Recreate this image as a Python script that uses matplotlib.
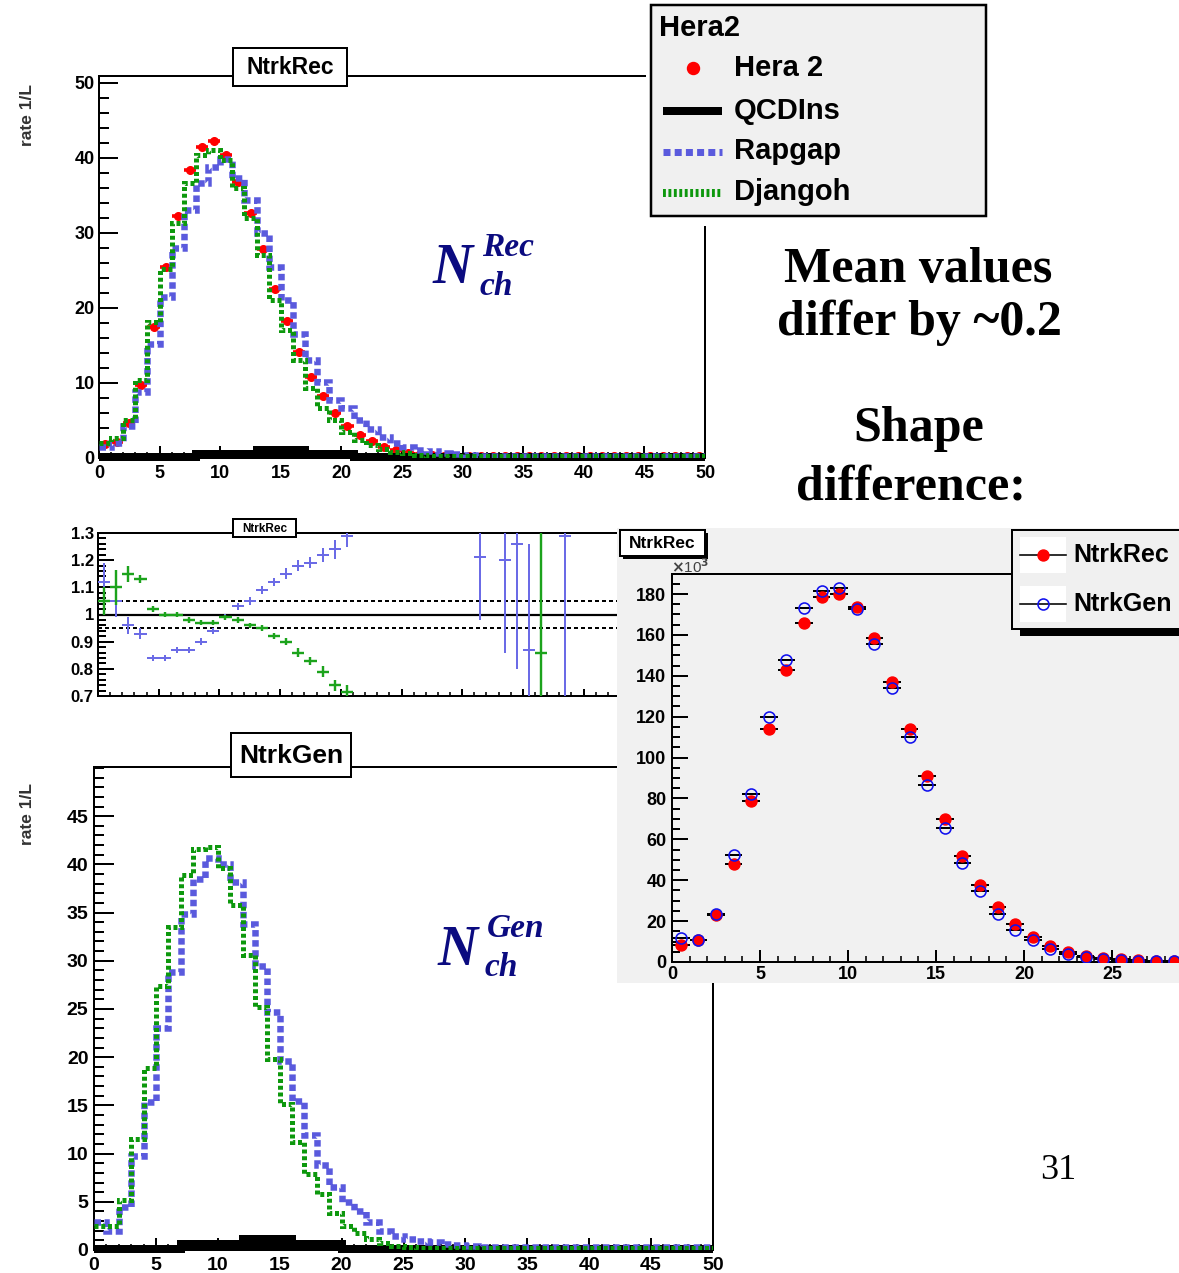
import numpy as np
import matplotlib
matplotlib.use("Agg")
import matplotlib.pyplot as plt
from matplotlib import font_manager
from matplotlib.patches import Rectangle
from matplotlib.lines import Line2D
from matplotlib.ticker import MultipleLocator, FuncFormatter

# ---------------------------------------------------------------- data
# NtrkRec, rate 1/L, unit bins from 0 to 50
hera2_rec = [1.9, 2.1, 4.6, 9.7, 17.4, 25.4, 32.2, 38.4, 41.5, 42.2,
             40.4, 36.8, 32.7, 27.8, 22.5, 18.3, 14.1, 10.8, 8.2, 6.0,
             4.2, 3.1, 2.2, 1.5, 1.0, 0.7, 0.5, 0.4, 0.3, 0.3,
             0.3, 0.2, 0.2, 0.2, 0.2, 0.2, 0.2, 0.2, 0.2, 0.2,
             0.2, 0.2, 0.2, 0.2, 0.2, 0.2, 0.2, 0.2, 0.2, 0.2]
qcdins_rec = [0.1, 0.1, 0.1, 0.1, 0.1, 0.1, 0.1, 0.1, 0.5, 0.5,
              0.5, 0.5, 0.5, 1.0, 1.0, 1.0, 1.0, 0.5, 0.5, 0.5,
              0.5, 0.1, 0.1, 0.1, 0.1, 0.1, 0.1, 0.1, 0.1, 0.1,
              0.1, 0.1, 0.1, 0.1, 0.1, 0.1, 0.1, 0.1, 0.1, 0.1,
              0.1, 0.1, 0.1, 0.1, 0.1, 0.1, 0.1, 0.1, 0.1, 0.1]
rapgap_rec = [1.5, 2.0, 4.2, 8.8, 15.2, 21.4, 28.0, 33.1, 36.6, 38.8,
              39.9, 37.3, 34.4, 30.0, 25.4, 21.0, 16.5, 13.0, 10.1, 7.7,
              6.6, 5.0, 3.8, 2.8, 2.0, 1.5, 1.1, 0.9, 0.7, 0.5,
              0.4, 0.3, 0.3, 0.3, 0.3, 0.2, 0.2, 0.2, 0.2, 0.2,
              0.2, 0.2, 0.2, 0.2, 0.2, 0.2, 0.2, 0.2, 0.2, 0.2]
djangoh_rec = [2.0, 2.6, 5.1, 10.4, 18.1, 25.2, 31.3, 36.6, 40.4, 41.0,
               39.7, 36.0, 32.0, 27.1, 21.0, 17.0, 13.0, 9.3, 6.6, 5.1,
               3.5, 2.4, 1.7, 1.2, 0.8, 0.6, 0.4, 0.3, 0.25, 0.2,
               0.2, 0.2, 0.2, 0.2, 0.2, 0.2, 0.2, 0.2, 0.2, 0.2,
               0.2, 0.2, 0.2, 0.2, 0.2, 0.2, 0.2, 0.2, 0.2, 0.2]

# NtrkGen, rate 1/L
qcdins_gen = [0.1, 0.1, 0.1, 0.1, 0.1, 0.1, 0.1, 0.6, 0.6, 0.6,
              0.6, 0.6, 1.1, 1.1, 1.1, 1.1, 0.6, 0.6, 0.6, 0.6,
              0.1, 0.1, 0.1, 0.1, 0.1, 0.1, 0.1, 0.1, 0.1, 0.1,
              0.1, 0.1, 0.1, 0.1, 0.1, 0.1, 0.1, 0.1, 0.1, 0.1,
              0.1, 0.1, 0.1, 0.1, 0.1, 0.1, 0.1, 0.1, 0.1, 0.1]
rapgap_gen = [2.9, 2.0, 4.5, 9.7, 15.3, 23.0, 28.8, 34.9, 38.5, 40.7,
              40.0, 38.2, 33.8, 29.5, 24.7, 19.6, 15.5, 11.9, 8.8, 6.5,
              5.0, 4.0, 2.9, 2.0, 1.5, 1.1, 0.9, 0.8, 0.6, 0.5,
              0.4, 0.3, 0.3, 0.3, 0.3, 0.3, 0.3, 0.3, 0.3, 0.3,
              0.3, 0.3, 0.3, 0.3, 0.3, 0.3, 0.3, 0.3, 0.3, 0.3]
djangoh_gen = [2.5, 2.5, 5.2, 11.5, 18.9, 27.4, 33.5, 38.9, 41.6, 41.8,
               39.6, 35.8, 30.6, 25.2, 19.8, 15.1, 11.2, 7.9, 5.8, 3.8,
               2.5, 1.8, 1.1, 0.75, 0.45, 0.3, 0.2, 0.2, 0.2, 0.2,
               0.2, 0.2, 0.2, 0.2, 0.2, 0.2, 0.2, 0.2, 0.2, 0.2,
               0.2, 0.2, 0.2, 0.2, 0.2, 0.2, 0.2, 0.2, 0.2, 0.2]

# ratio panel (MC / Hera 2)
ratio_x = [0.5, 1.5, 2.5, 3.5, 4.5, 5.5, 6.5, 7.5, 8.5, 9.5, 10.5,
           11.5, 12.5, 13.5, 14.5, 15.5, 16.5, 17.5, 18.5, 19.5, 20.5]
rapgap_ratio = [1.12, 1.05, 0.96, 0.93, 0.84, 0.84, 0.87, 0.87, 0.90, 0.94, 0.99,
                1.03, 1.05, 1.09, 1.12, 1.15, 1.18, 1.19, 1.22, 1.24, 1.29]
rapgap_ratio_err = [0.07, 0.06, 0.03, 0.02, 0.012, 0.012, 0.012, 0.012, 0.012, 0.012, 0.012,
                    0.012, 0.015, 0.015, 0.015, 0.02, 0.02, 0.02, 0.025, 0.035, 0.04]
djangoh_ratio = [1.05, 1.10, 1.15, 1.13, 1.02, 1.00, 1.00, 0.98, 0.97, 0.97, 0.99,
                 0.98, 0.96, 0.95, 0.92, 0.90, 0.86, 0.83, 0.79, 0.74, 0.715]
djangoh_ratio_err = [0.05, 0.065, 0.03, 0.015, 0.012, 0.01, 0.01, 0.01, 0.01, 0.01, 0.01,
                     0.01, 0.01, 0.01, 0.012, 0.012, 0.015, 0.015, 0.02, 0.02, 0.025]
rapgap_tail_x = [31.5, 33.5, 34.5, 35.5, 38.5]
rapgap_tail = [1.21, 1.20, 1.26, 0.87, 1.29]
rapgap_tail_err = [0.23, 0.34, 0.46, 0.39, 0.60]
djangoh_tail_x = [36.5]
djangoh_tail = [0.86]
djangoh_tail_err = [0.60]

# NtrkRec vs NtrkGen, entries in units of 10^3
inset_x = [0.5, 1.5, 2.5, 3.5, 4.5, 5.5, 6.5, 7.5, 8.5, 9.5,
           10.5, 11.5, 12.5, 13.5, 14.5, 15.5, 16.5, 17.5, 18.5, 19.5,
           20.5, 21.5, 22.5, 23.5, 24.5, 25.5, 26.5, 27.5, 28.5, 29.5]
ntrkrec_k = [8.5, 10.6, 23.2, 48.0, 78.7, 113.8, 142.8, 166.0, 178.7, 180.0,
             173.8, 158.3, 136.8, 113.8, 91.0, 69.9, 51.7, 37.9, 26.9, 18.4,
             12.2, 7.7, 4.9, 2.9, 2.0, 1.3, 0.8, 0.5, 0.3, 0.2]
ntrkgen_k = [11.8, 10.6, 23.7, 52.2, 82.4, 120.0, 147.7, 173.0, 181.6, 183.1,
             172.7, 155.4, 133.8, 110.2, 86.5, 65.6, 48.6, 34.6, 23.7, 15.8,
             10.6, 6.5, 4.1, 2.4, 1.6, 1.0, 0.6, 0.4, 0.3, 0.2]

# ---------------------------------------------------------------- style
W, H, DPI = 1179, 1273, 100
PX = 72.0 / DPI  # points per pixel

_names = {f.name for f in font_manager.fontManager.ttflist}
SANS = "Liberation Sans Narrow" if "Liberation Sans Narrow" in _names else "Liberation Sans"
SERIF = "Liberation Serif"
plt.rcParams["font.family"] = [SANS, "DejaVu Sans"]
plt.rcParams["font.weight"] = "bold"

RAP_BLUE = "#5a5add"
DJ_GREEN = "#0d980d"
RATIO_BLUE = "#6b6be6"
RATIO_GREEN = "#1ca31c"
NAVY = "#0b0b80"

edges = np.arange(51)
centres = edges[:-1] + 0.5

fig = plt.figure(figsize=(W / DPI, H / DPI), dpi=DPI)
fig.patch.set_facecolor("white")


def px_axes(l, t, r, b, **kw):
    return fig.add_axes([l / W, 1 - b / H, (r - l) / W, (b - t) / H], **kw)


def root_frame(ax, xmaj, xmin, ymaj, ymin, ylen_major, ylen_minor,
               xlen_major, xlen_minor, labelsize, ypad=3, xpad=2):
    ax.xaxis.set_major_locator(MultipleLocator(xmaj))
    ax.xaxis.set_minor_locator(MultipleLocator(xmin))
    ax.yaxis.set_major_locator(MultipleLocator(ymaj))
    ax.yaxis.set_minor_locator(MultipleLocator(ymin))
    ax.tick_params(axis="y", which="major", direction="in", length=ylen_major * PX,
                   width=2 * PX, labelsize=labelsize, pad=ypad)
    ax.tick_params(axis="y", which="minor", direction="in", length=ylen_minor * PX,
                   width=2 * PX)
    ax.tick_params(axis="x", which="major", direction="in", length=xlen_major * PX,
                   width=2 * PX, labelsize=labelsize, pad=xpad)
    ax.tick_params(axis="x", which="minor", direction="in", length=xlen_minor * PX,
                   width=1.6 * PX)
    for s in ax.spines.values():
        s.set_linewidth(2 * PX)
    fmt = FuncFormatter(lambda v, p: f"{v:g}")
    ax.xaxis.set_major_formatter(fmt)
    ax.yaxis.set_major_formatter(fmt)


def draw_stack(ax, qcd, rap, dj, data=None):
    if data is not None:
        ax.errorbar(centres, data, xerr=0.5, fmt="o", color="red", ms=5.5,
                    elinewidth=2.6, capsize=0, zorder=2, clip_on=False)
    # QCDIns: solid black filled band with a heavy outline
    ax.stairs(qcd, edges, baseline=0, fill=True, color="black", zorder=3)
    ax.stairs(qcd, edges, baseline=None, color="black", lw=8 * PX, zorder=3,
              clip_on=False)
    ax.stairs(rap, edges, baseline=None, color=RAP_BLUE, lw=6.5 * PX,
              linestyle=(0, (1.0, 0.55)), zorder=4)
    ax.stairs(dj, edges, baseline=None, color=DJ_GREEN, lw=5 * PX,
              linestyle=(0, (0.8, 0.55)), zorder=5)


# ------------------------------------------------------------ NtrkRec panel
ax_top = px_axes(99, 76, 705, 458)
draw_stack(ax_top, qcdins_rec, rapgap_rec, djangoh_rec, data=hera2_rec)
ax_top.set_xlim(0, 50)
ax_top.set_ylim(0, 50.9)
root_frame(ax_top, 5, 1, 10, 2, 19, 10, 12, 6, 13, xpad=5)

# ------------------------------------------------------------ ratio panel
ax_rat = px_axes(98, 533, 705, 696)
ax_rat.axhline(1.0, color="black", lw=2.2 * PX, zorder=1)
ax_rat.axhline(1.05, color="black", lw=2 * PX, ls=(0, (2.0, 1.5)), zorder=1)
ax_rat.axhline(0.95, color="black", lw=2 * PX, ls=(0, (2.0, 1.5)), zorder=1)
ax_rat.errorbar(ratio_x, rapgap_ratio, xerr=0.5, yerr=rapgap_ratio_err, fmt="none",
                ecolor=RATIO_BLUE, elinewidth=2 * PX, capsize=0, zorder=3)
ax_rat.errorbar(rapgap_tail_x, rapgap_tail, xerr=0.5, yerr=rapgap_tail_err, fmt="none",
                ecolor=RATIO_BLUE, elinewidth=2 * PX, capsize=0, zorder=3)
ax_rat.errorbar(ratio_x, djangoh_ratio, xerr=0.5, yerr=djangoh_ratio_err, fmt="none",
                ecolor=RATIO_GREEN, elinewidth=2.4 * PX, capsize=0, zorder=4)
ax_rat.errorbar(djangoh_tail_x, djangoh_tail, xerr=0.5, yerr=djangoh_tail_err, fmt="none",
                ecolor=RATIO_GREEN, elinewidth=2.4 * PX, capsize=0, zorder=4)
ax_rat.set_xlim(0, 50)
ax_rat.set_ylim(0.7, 1.3)
root_frame(ax_rat, 5, 1, 0.1, 0.02, 16, 8, 7, 4, 12)
ax_rat.tick_params(axis="x", labelbottom=False)

# ------------------------------------------------------------ NtrkGen panel
ax_bot = px_axes(94, 767, 713, 1250)
draw_stack(ax_bot, qcdins_gen, rapgap_gen, djangoh_gen)
ax_bot.set_xlim(0, 50)
ax_bot.set_ylim(0, 50.1)
root_frame(ax_bot, 5, 1, 5, 1, 20, 10, 12, 6, 14, ypad=4, xpad=5)
ax_bot.set_yticks(np.arange(0, 50, 5))

# ------------------------------------------------------------ background layer
bg = px_axes(0, 0, W, H)
bg.set_xlim(0, W)
bg.set_ylim(H, 0)
bg.axis("off")
bg.add_patch(Rectangle((646, 0), 346, 226, fc="white", ec="none"))
bg.add_patch(Rectangle((617, 528), W - 617, 455, fc="#f1f1f1", ec="none"))

# ------------------------------------------------------------ NtrkRec vs NtrkGen
ax_in = px_axes(672, 574, 1200, 962)
ax_in.set_facecolor("none")
ax_in.errorbar(inset_x, ntrkrec_k, xerr=0.5, fmt="none", ecolor="black",
               elinewidth=2 * PX, capsize=0, zorder=2)
ax_in.errorbar(inset_x, ntrkgen_k, xerr=0.5, fmt="none", ecolor="black",
               elinewidth=2 * PX, capsize=0, zorder=2)
ax_in.plot(inset_x, ntrkrec_k, "o", color="red", ms=11 * PX, mec="red", zorder=3)
ax_in.plot(inset_x, ntrkgen_k, "o", mfc="none", mec="#1010ee", mew=1.6 * PX,
           ms=11 * PX, zorder=4)
ax_in.set_xlim(0, 30)
ax_in.set_ylim(0, 189.8)
root_frame(ax_in, 5, 1, 20, 5, 16, 8, 12, 6, 13, ypad=4, xpad=3)
ax_in.set_xticks(np.arange(0, 30, 5))

# ------------------------------------------------------------ annotation layer
ov = px_axes(0, 0, W, H)
ov.set_xlim(0, W)
ov.set_ylim(H, 0)
ov.axis("off")


def title_box(x0, y0, x1, y1, text, size, shadow=0):
    if shadow:
        ov.add_patch(Rectangle((x0 + shadow, y0 + shadow), x1 - x0, y1 - y0,
                               fc="black", ec="none"))
    ov.add_patch(Rectangle((x0, y0), x1 - x0, y1 - y0, fc="white", ec="black",
                           lw=2 * PX))
    ov.text((x0 + x1) / 2, (y0 + y1) / 2 + 1, text, ha="center", va="center",
            fontsize=size, fontweight="bold")


title_box(233, 48, 347, 86, "NtrkRec", 16.5)
title_box(233, 519, 296, 537, "NtrkRec", 8.5)
title_box(231, 733, 351, 777, "NtrkGen", 19)
title_box(620, 530, 705, 556, "NtrkRec", 12.5, shadow=3)

# y-axis titles
ov.text(27, 115, "rate 1/L", rotation=90, ha="center", va="center", fontsize=12.5,
        fontweight="bold", color="#333333")
ov.text(27, 814, "rate 1/L", rotation=90, ha="center", va="center", fontsize=12.5,
        fontweight="bold", color="#333333")
ov.text(671, 567, r"$\times$10$^{3}$", ha="left", va="center", fontsize=11,
        color="#444444", fontweight="normal")

# N_ch labels
for (xn, yn, sup, yup, ysub) in [(433, 283, "Rec", 256, 295), (438, 965, "Gen", 937, 976)]:
    ov.text(xn, yn, "N", fontsize=40, family=SERIF, style="italic", fontweight="bold",
            color=NAVY, va="baseline", ha="left")
    ov.text(xn + 49, yup, sup, fontsize=24, family=SERIF, style="italic",
            fontweight="bold", color=NAVY, va="baseline", ha="left")
    ov.text(xn + 47, ysub, "ch", fontsize=24, family=SERIF, style="italic",
            fontweight="bold", color=NAVY, va="baseline", ha="left")

# commentary text
for txt, x, y in [("Mean values", 918, 282), ("differ by ~0.2", 919, 335),
                  ("Shape", 919, 441), ("difference:", 911, 499)]:
    ov.text(x, y, txt, fontsize=36, family=SERIF, fontweight="bold",
            ha="center", va="baseline", color="black")
ov.text(1058, 1179, "31", fontsize=26, family=SERIF, fontweight="normal",
        ha="center", va="baseline", color="black")

# top legend
ov.add_patch(Rectangle((651, 5), 335, 211, fc="#f0f0f0", ec="black", lw=2.5 * PX))
ov.text(659, 28, "Hera2", fontsize=21, fontweight="bold", va="center", ha="left")
leg_y = [68, 111, 151, 192]
leg_txt = ["Hera 2", "QCDIns", "Rapgap", "Djangoh"]
for t, y in zip(leg_txt, leg_y):
    ov.text(734, y, t, fontsize=21, fontweight="bold", va="center", ha="left")
ov.plot([693], [68], "o", color="red", ms=12 * PX)
ov.add_line(Line2D([663, 722], [111, 111], color="black", lw=8 * PX, solid_capstyle="butt"))
ov.add_line(Line2D([663, 722], [152, 152], color=RAP_BLUE, lw=7 * PX,
                   ls=(0, (1.0, 0.6)), dash_capstyle="butt"))
ov.add_line(Line2D([663, 722], [193, 193], color=DJ_GREEN, lw=8 * PX,
                   ls=(0, (0.36, 0.32)), dash_capstyle="butt"))

# inset legend
ov.add_patch(Rectangle((1020, 629), 170, 7, fc="black", ec="none"))
ov.add_patch(Rectangle((1012, 530), 180, 99, fc="#f0f0f0", ec="black", lw=2 * PX))
for y in (555, 604):
    ov.add_patch(Rectangle((1020, y - 18), 46, 36, fc="white", ec="none"))
    ov.add_line(Line2D([1020, 1066], [y, y], color="black", lw=1.6 * PX))
ov.plot([1043], [555], "o", color="red", ms=11 * PX)
ov.plot([1043], [604], "o", mfc="none", mec="#1010ee", mew=1.6 * PX, ms=11 * PX)
ov.text(1073, 555, "NtrkRec", fontsize=18, fontweight="bold", va="center", ha="left")
ov.text(1073, 604, "NtrkGen", fontsize=18, fontweight="bold", va="center", ha="left")

fig.savefig("out.png", dpi=DPI, facecolor="white")
